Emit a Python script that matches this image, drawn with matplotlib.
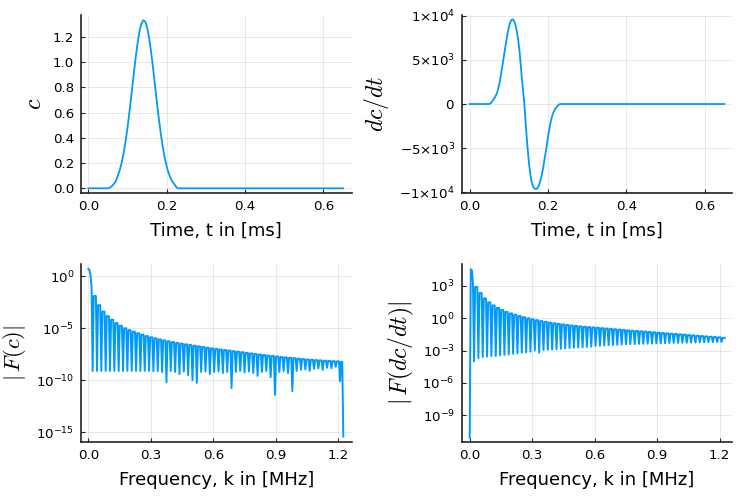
import numpy as np
import matplotlib
matplotlib.use("Agg")
import matplotlib.pyplot as plt

# ---------------- data ----------------
# time-domain pulse c(t)
t_c = [0.000, 0.050, 0.055, 0.060, 0.065, 0.070, 0.075, 0.080, 0.085, 0.090,
       0.095, 0.100, 0.105, 0.110, 0.115, 0.120, 0.125, 0.130, 0.135, 0.140,
       0.145, 0.150, 0.155, 0.160, 0.165, 0.170, 0.175, 0.180, 0.185, 0.190,
       0.195, 0.200, 0.205, 0.210, 0.215, 0.220, 0.225, 0.229, 0.650]
c_vals = [0.000, 0.000, 0.005, 0.018, 0.035, 0.055, 0.098, 0.143, 0.202, 0.279,
          0.372, 0.483, 0.609, 0.744, 0.883, 1.017, 1.137, 1.235, 1.301, 1.331,
          1.321, 1.273, 1.191, 1.082, 0.954, 0.816, 0.678, 0.547, 0.428, 0.325,
          0.240, 0.171, 0.119, 0.080, 0.050, 0.030, 0.008, 0.000, 0.000]

# time derivative dc/dt
t_d = [0.000, 0.050, 0.055, 0.060, 0.065, 0.070, 0.073, 0.076, 0.079, 0.082,
       0.085, 0.088, 0.091, 0.094, 0.097, 0.100, 0.103, 0.106, 0.109, 0.112,
       0.115, 0.118, 0.121, 0.124, 0.127, 0.130, 0.1327, 0.136, 0.1395, 0.1425,
       0.1454, 0.1484, 0.1514, 0.1547, 0.158, 0.161, 0.164, 0.1665, 0.169, 0.1715,
       0.174, 0.177, 0.1795, 0.184, 0.188, 0.192, 0.1965, 0.2005, 0.205, 0.2085,
       0.212, 0.2155, 0.219, 0.225, 0.230, 0.650]
dcdt_vals = [0, 0, 150, 450, 800, 1300, 1750, 2340, 3100, 3900,
             4750, 5600, 6450, 7300, 8050, 8700, 9200, 9480, 9580, 9500,
             9230, 8750, 8050, 7200, 6050, 4600, 3100, 1650, 0, -1900,
             -3700, -5300, -6700, -7900, -8800, -9250, -9500, -9600, -9620, -9580,
             -9450, -9180, -8800, -8050, -7100, -6000, -4800, -3550, -2400, -1700,
             -1150, -800, -500, -180, 0, 0]

# spectra: log10 magnitudes; frequency bin width in MHz
dk = 0.00521
# |F(c)|
fc_main = [0.70, 0.62, 0.15, -1.00]
fc_peak = [-1.90, -2.78, -3.40, -3.83, -4.18, -4.50, -4.76, -5.00, -5.18, -5.33,
           -5.48, -5.62, -5.75, -5.87, -5.97, -6.07, -6.16, -6.25, -6.33, -6.41,
           -6.48, -6.55, -6.61, -6.68, -6.74, -6.80, -6.87, -6.93, -6.98, -7.04,
           -7.09, -7.14, -7.20, -7.25, -7.30, -7.36, -7.42, -7.47, -7.52, -7.57,
           -7.62, -7.67, -7.72, -7.76, -7.80, -7.84, -7.88, -7.92, -7.96, -8.00,
           -8.03, -8.06, -8.09, -8.12, -8.14, -8.16, -8.18, -8.22]
fc_trough = [-9.10, -9.10, -9.10, -9.10, -9.10, -9.10, -9.10, -9.10, -9.10, -9.10,
             -9.10, -9.10, -9.10, -9.10, -9.12, -9.12, -9.20, -10.20, -9.10, -9.20,
             -9.40, -9.15, -9.50, -10.00, -10.25, -9.20, -9.15, -9.40, -9.20, -9.15,
             -9.30, -9.20, -10.75, -9.20, -9.10, -9.25, -9.15, -9.30, -9.57, -9.20,
             -9.10, -9.70, -11.40, -9.20, -9.10, -9.30, -11.05, -9.10, -9.00, -8.95,
             -9.10, -8.90, -8.85, -9.00, -8.80, -8.85, -8.70, -10.10]
fc_end = -15.4
# |F(dc/dt)|
fd_main = [-11.10, 4.55, 4.45, 3.30]
fd_peak = [2.91, 2.35, 1.85, 1.48, 1.20, 0.97, 0.77, 0.60, 0.45, 0.33,
           0.21, 0.10, 0.00, -0.09, -0.18, -0.26, -0.33, -0.40, -0.46, -0.52,
           -0.57, -0.62, -0.67, -0.71, -0.75, -0.79, -0.82, -0.85, -0.88, -0.92,
           -0.95, -0.98, -1.02, -1.05, -1.08, -1.12, -1.15, -1.18, -1.21, -1.24,
           -1.27, -1.30, -1.34, -1.37, -1.40, -1.43, -1.46, -1.49, -1.52, -1.56,
           -1.59, -1.62, -1.65, -1.68, -1.71, -1.74, -1.77, -1.82]
fd_trough = [-4.00, -3.70, -3.60, -3.55, -3.50, -3.50, -3.45, -3.40, -3.35, -3.30,
             -3.25, -3.20, -3.15, -3.10, -2.98, -3.19, -2.95, -2.92, -2.90, -2.87,
             -2.84, -2.80, -2.77, -2.74, -2.72, -2.69, -2.66, -2.63, -2.58, -2.55,
             -2.53, -2.50, -2.48, -2.46, -2.44, -2.42, -2.40, -2.39, -2.38, -2.37,
             -2.36, -2.35, -2.33, -2.32, -2.31, -2.30, -2.29, -2.28, -2.27, -2.27,
             -2.26, -2.25, -2.24, -2.23, -2.22, -2.21, -2.20, -2.20]

# tick labels
t_ticks = [0.0, 0.2, 0.4, 0.6]
t_ticklabels = ["0.0", "0.2", "0.4", "0.6"]
c_ticks = [0.0, 0.2, 0.4, 0.6, 0.8, 1.0, 1.2]
c_ticklabels = ["0.0", "0.2", "0.4", "0.6", "0.8", "1.0", "1.2"]
d_ticks = [-1e4, -5e3, 0, 5e3, 1e4]
d_ticklabels = [r"$-1{\times}10^{4}$", r"$-5{\times}10^{3}$", r"$0$",
                r"$5{\times}10^{3}$", r"$1{\times}10^{4}$"]
k_ticks = [0.0, 0.3, 0.6, 0.9, 1.2]
k_ticklabels = ["0.0", "0.3", "0.6", "0.9", "1.2"]
fc_ticks = [1e0, 1e-5, 1e-10, 1e-15]
fc_ticklabels = [r"$10^{0}$", r"$10^{-5}$", r"$10^{-10}$", r"$10^{-15}$"]
fd_ticks = [1e3, 1e0, 1e-3, 1e-6, 1e-9]
fd_ticklabels = [r"$10^{3}$", r"$10^{0}$", r"$10^{-3}$", r"$10^{-6}$", r"$10^{-9}$"]


def build_spectrum(main, trough, peak, end=None):
    logs = list(main)
    for tr, pk in zip(trough, peak):
        logs += [tr, pk, pk, pk]
    if end is not None:
        logs[-1] = end
    logs = np.array(logs)
    k = np.arange(len(logs)) * dk
    return k, 10.0 ** logs


k_c, F_c = build_spectrum(fc_main, fc_trough, fc_peak, fc_end)
k_d, F_d = build_spectrum(fd_main, fd_trough, fd_peak)

# ---------------- figure ----------------
W, H = 747, 498
plt.rcParams["font.family"] = ["DejaVu Sans"]
plt.rcParams["mathtext.fontset"] = "dejavusans"
fig = plt.figure(figsize=(W / 100, H / 100), dpi=100)

BLUE = "#009AFA"
TICK_FS = 9.6
LABEL_FS = 13
MATH_FS = 17


def add_ax(l, r, t, b):
    return fig.add_axes([l / W, 1 - b / H, (r - l) / W, (b - t) / H])


ax1 = add_ax(81, 351.7, 15, 193)
ax2 = add_ax(461.7, 732.3, 15, 193.3)
ax3 = add_ax(81, 351.7, 264, 442.3)
ax4 = add_ax(461.7, 732.3, 264, 442.3)


def style(ax):
    for s in ["top", "right"]:
        ax.spines[s].set_visible(False)
    for s in ["left", "bottom"]:
        ax.spines[s].set_linewidth(1.2)
        ax.spines[s].set_color("#222222")
    ax.grid(True, color="black", alpha=0.1, linewidth=0.6)
    ax.set_axisbelow(True)
    ax.tick_params(direction="in", length=3, width=0.8, labelsize=TICK_FS, pad=5,
                   color="#222222")
    ax.tick_params(which="minor", length=0)


ax1.plot(t_c, c_vals, color=BLUE, lw=1.3)
ax1.set_xlim(-0.0188, 0.672)
ax1.set_ylim(-0.037, 1.372)
ax1.set_xticks(t_ticks, t_ticklabels)
ax1.set_yticks(c_ticks, c_ticklabels)
ax1.set_xlabel("Time, t in [ms]", fontsize=LABEL_FS, labelpad=6)
ax1.set_ylabel(r"$c$", fontsize=MATH_FS, math_fontfamily="cm")
style(ax1)
ax1.yaxis.set_label_coords(-0.128, 0.5)

ax2.plot(t_d, dcdt_vals, color=BLUE, lw=1.3)
ax2.set_xlim(-0.0204, 0.6704)
ax2.set_ylim(-1.011e4, 1.008e4)
ax2.set_xticks(t_ticks, t_ticklabels)
ax2.set_yticks(d_ticks, d_ticklabels)
ax2.set_xlabel("Time, t in [ms]", fontsize=LABEL_FS, labelpad=6)
ax2.set_ylabel(r"$dc/dt$", fontsize=MATH_FS, math_fontfamily="cm")
style(ax2)
ax2.yaxis.set_label_coords(-0.26, 0.5)

ax3.plot(k_c, F_c, color=BLUE, lw=1.4)
ax3.set_yscale("log")
ax3.set_xlim(-0.035, 1.2645)
ax3.set_ylim(10 ** -15.95, 10 ** 1.17)
ax3.set_xticks(k_ticks, k_ticklabels)
ax3.set_yticks(fc_ticks, fc_ticklabels)
ax3.minorticks_off()
ax3.set_xlabel("Frequency, k in [MHz]", fontsize=LABEL_FS, labelpad=6)
ax3.set_ylabel(r"$|\,F(c)|$", fontsize=16, math_fontfamily="cm")
style(ax3)
ax3.yaxis.set_label_coords(-0.195, 0.5)

ax4.plot(k_d, F_d, color=BLUE, lw=1.4)
ax4.set_yscale("log")
ax4.set_xlim(-0.0384, 1.2607)
ax4.set_ylim(10 ** -11.51, 10 ** 5.04)
ax4.set_xticks(k_ticks, k_ticklabels)
ax4.set_yticks(fd_ticks, fd_ticklabels)
ax4.minorticks_off()
ax4.set_xlabel("Frequency, k in [MHz]", fontsize=LABEL_FS, labelpad=6)
ax4.set_ylabel(r"$|\,F(dc/dt)|$", fontsize=MATH_FS, math_fontfamily="cm")
style(ax4)
ax4.yaxis.set_label_coords(-0.168, 0.5)

fig.savefig("out.png", dpi=100)
